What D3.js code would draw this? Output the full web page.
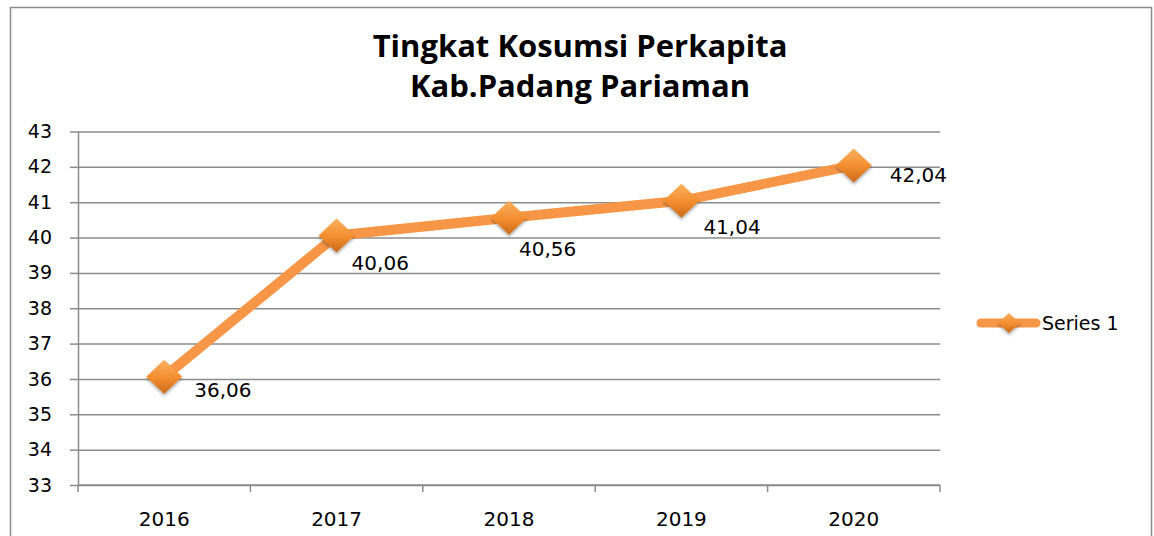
<!DOCTYPE html>
<html>
<head>
<meta charset="utf-8">
<script src="https://cdn.jsdelivr.net/npm/d3@7"></script>
<style>
  body { margin: 0; background: #fff; }
  svg { display: block; font-family: "DejaVu Sans", sans-serif; }
</style>
</head>
<body>
<svg id="chart" width="1154" height="536"></svg>
<script>
var years = ["2016", "2017", "2018", "2019", "2020"],
    values = [36.06, 40.06, 40.56, 41.04, 42.04],
    yTicks = [33, 34, 35, 36, 37, 38, 39, 40, 41, 42, 43],
    seriesName = "Series 1",
    titleLines = ["Tingkat Kosumsi Perkapita", "Kab.Padang Pariaman"]

var width = 1154,
    height = 536,
    margin = {top: 131.5, right: 214, bottom: 51, left: 78}

// geseran label nilai (digeser manual seperti di gambar asli)
var labelOffsets = [[30, 20], [15, 35], [10, 38], [22, 33], [36, 17]]

var svg = d3.select("#chart")

// gradient untuk marker diamond
var defs = svg.append("defs")
var grad = defs.append("linearGradient")
    .attr("id", "markGrad")
    .attr("x1", 0).attr("y1", 0).attr("x2", 0).attr("y2", 1)
grad.append("stop").attr("offset", "0%").attr("stop-color", "#fbb060")
grad.append("stop").attr("offset", "55%").attr("stop-color", "#f28d2e")
grad.append("stop").attr("offset", "100%").attr("stop-color", "#c96a1c")
var shadow = defs.append("filter").attr("id", "shadow")
    .attr("x", "-30%").attr("y", "-30%").attr("width", "160%").attr("height", "160%")
shadow.append("feDropShadow")
    .attr("dx", 0).attr("dy", 2).attr("stdDeviation", 1.5)
    .attr("flood-color", "#000").attr("flood-opacity", 0.35)

// outer border
svg.append("rect")
    .attr("x", 10.5).attr("y", 7.5)
    .attr("width", 1141).attr("height", 540)
    .attr("fill", "none")
    .attr("stroke", "#8c8c8c")
    .attr("stroke-width", 1.5)

// judul
svg.append("g").selectAll("text")
    .data(titleLines)
  .enter().append("text")
    .attr("x", 580)
    .attr("y", function(d, i) { return 57 + i * 40 })
    .attr("text-anchor", "middle")
    .attr("font-family", "'Open Sans', sans-serif")
    .attr("font-size", "31px")
    .attr("font-weight", "bold")
    .attr("fill", "#000")
    .text(function(d) { return d })

var x = d3.scaleBand()
    .domain(years)
    .range([margin.left, width - margin.right])

var y = d3.scaleLinear()
    .domain([33, 43])
    .range([height - margin.bottom, margin.top])

var plot = svg.append("g")

// gridlines
plot.append("g")
    .attr("transform", "translate(" + margin.left + ",0)")
    .call(d3.axisLeft(y).tickValues(yTicks).tickSize(-(width - margin.left - margin.right)).tickFormat(""))
    .call(function(g) {
        g.select(".domain").remove()
        g.selectAll("line").attr("stroke", "#8c8c8c").attr("stroke-width", 1.5)
    })

// y axis
plot.append("g")
    .attr("transform", "translate(" + margin.left + ",0)")
    .call(d3.axisLeft(y).tickValues(yTicks).tickSize(8).tickPadding(18).tickFormat(d3.format("d")))
    .call(function(g) {
        g.attr("font-family", "DejaVu Sans, sans-serif").attr("font-size", 19)
        g.select(".domain").attr("stroke", "#8c8c8c").attr("stroke-width", 1.5)
            .attr("d", "M0.5," + y(43) + "V" + y(33))
        g.selectAll("line").attr("stroke", "#8c8c8c").attr("stroke-width", 1.5)
        g.selectAll("text").attr("fill", "#000")
    })

// x axis
var xTickPos = years.map(function(d) { return x(d) }).concat([x.range()[1]])
var xAxisG = plot.append("g")
xAxisG.append("line")
    .attr("x1", margin.left).attr("x2", width - margin.right)
    .attr("y1", y(33)).attr("y2", y(33))
    .attr("stroke", "#8c8c8c").attr("stroke-width", 1.5)
xAxisG.selectAll(".tk")
    .data(xTickPos)
  .enter().append("line")
    .attr("x1", function(d) { return d }).attr("x2", function(d) { return d })
    .attr("y1", y(33)).attr("y2", y(33) + 7)
    .attr("stroke", "#8c8c8c").attr("stroke-width", 1.5)
xAxisG.selectAll(".lbl")
    .data(years)
  .enter().append("text")
    .attr("x", function(d) { return x(d) + x.bandwidth() / 2 })
    .attr("y", y(33) + 41)
    .attr("text-anchor", "middle")
    .attr("font-size", "20px")
    .attr("fill", "#000")
    .text(function(d) { return d })

// garis
var pts = years.map(function(d, i) { return [x(d) + x.bandwidth() / 2, y(values[i])] })
plot.append("path")
    .datum(pts)
    .attr("d", d3.line())
    .attr("fill", "none")
    .attr("stroke", "#f79646")
    .attr("stroke-width", 10)
    .attr("stroke-linejoin", "round")

function diamond(cx, cy, w, h) {
    return "M" + cx + "," + (cy - h / 2) + "L" + (cx + w / 2) + "," + cy +
           "L" + cx + "," + (cy + h / 2) + "L" + (cx - w / 2) + "," + cy + "Z"
}

plot.selectAll(".mark")
    .data(pts)
  .enter().append("path")
    .attr("d", function(d) { return diamond(d[0], d[1], 36, 34) })
    .attr("fill", "url(#markGrad)")
    .attr("filter", "url(#shadow)")

// label nilai
plot.selectAll(".val")
    .data(pts)
  .enter().append("text")
    .attr("x", function(d, i) { return d[0] + labelOffsets[i][0] })
    .attr("y", function(d, i) { return d[1] + labelOffsets[i][1] })
    .attr("font-size", "20px")
    .attr("fill", "#000")
    .text(function(d, i) { return d3.format(".2f")(values[i]).replace(".", ",") })

// legend
var lg = svg.append("g").attr("transform", "translate(978,323)")
lg.append("line")
    .attr("x1", 3).attr("x2", 58)
    .attr("y1", 0).attr("y2", 0)
    .attr("stroke", "#f79646").attr("stroke-width", 9)
    .attr("stroke-linecap", "round")
lg.append("path")
    .attr("d", diamond(31, 0, 22, 20))
    .attr("fill", "url(#markGrad)")
    .attr("filter", "url(#shadow)")
lg.append("text")
    .attr("x", 64).attr("y", 7)
    .attr("font-size", "19px")
    .attr("fill", "#000")
    .text(seriesName)
</script>
</body>
</html>
